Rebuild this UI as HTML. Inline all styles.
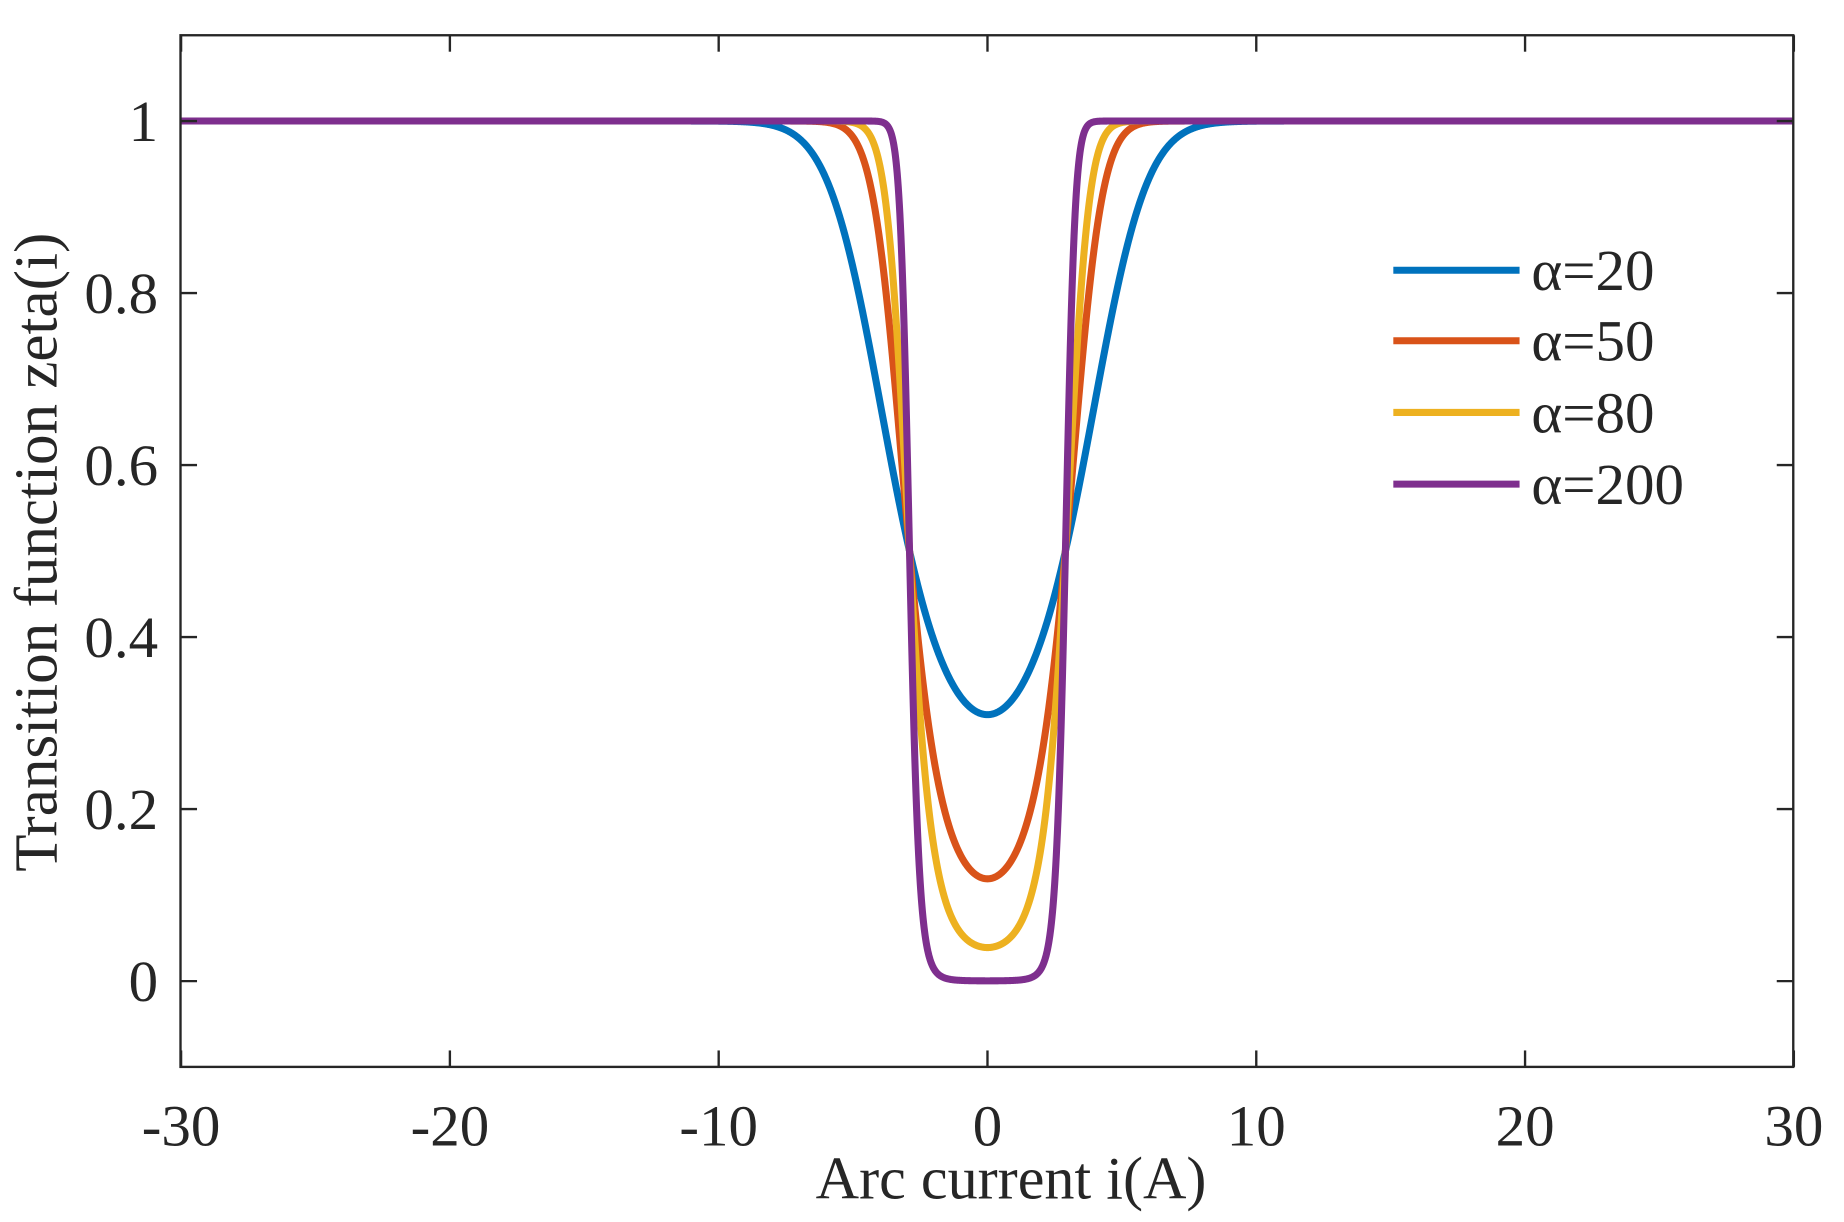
<!DOCTYPE html>
<html><head><meta charset="utf-8"><style>
html,body{margin:0;padding:0;background:#fff;}
svg{display:block;}
text{font-family:"Liberation Serif",serif;fill:#262626;}
</style></head><body>
<svg id="s" width="1844" height="1222" viewBox="0 0 1563 1040" preserveAspectRatio="none">
<rect x="0" y="0" width="1563" height="1040" fill="#fff"/>
<g id="curves" fill="none" stroke-width="6" stroke-linejoin="round"></g>
<rect x="153" y="30" width="1367" height="878" fill="none" stroke="#262626" stroke-width="2"/>
<g id="ticks" stroke="#262626" stroke-width="2"></g>
<g font-size="50" text-anchor="end" id="ylab"></g>
<g font-size="50" text-anchor="middle" id="xlab"></g>
<text x="857" y="1020" font-size="51" text-anchor="middle">Arc current i(A)</text>
<text transform="translate(48,470) rotate(-90)" font-size="52" text-anchor="middle">Transition function zeta(i)</text>
<g stroke-width="6">
<line x1="1181" y1="230" x2="1288" y2="230" stroke="#0072BD"/>
<line x1="1181" y1="290" x2="1288" y2="290" stroke="#D95319"/>
<line x1="1181" y1="351" x2="1288" y2="351" stroke="#EDB120"/>
<line x1="1181" y1="412" x2="1288" y2="412" stroke="#7E2F8E"/>
</g>
<g font-size="50">
<text x="1298" y="247">α=20</text>
<text x="1298" y="307">α=50</text>
<text x="1298" y="368">α=80</text>
<text x="1298" y="429">α=200</text>
</g>
</svg>
<script>
const NS="http://www.w3.org/2000/svg";
const X=i=>837+i*1367/60, Y=z=>835-732*z;
const cols={20:"#0072BD",50:"#D95319",80:"#EDB120",200:"#7E2F8E"};
const g=document.getElementById("curves");
for(const a of [20,50,80,200]){
  const k=a/210,c=8.41;let d="";
  for(let i=-30;i<=30.0001;i+=0.02){
    const z=1/(1+Math.exp(-k*(i*i-c)));
    d+=(d?"L":"M")+X(i).toFixed(2)+","+Y(z).toFixed(2);
  }
  const p=document.createElementNS(NS,"path");p.setAttribute("d",d);p.setAttribute("stroke",cols[a]);g.appendChild(p);
}
const t=document.getElementById("ticks"),yl=document.getElementById("ylab"),xl=document.getElementById("xlab");
function ln(x1,y1,x2,y2){const l=document.createElementNS(NS,"line");l.setAttribute("x1",x1);l.setAttribute("y1",y1);l.setAttribute("x2",x2);l.setAttribute("y2",y2);t.appendChild(l);}
function tx(p,x,y,s){const e=document.createElementNS(NS,"text");e.setAttribute("x",x);e.setAttribute("y",y);e.textContent=s;p.appendChild(e);}
for(let k=0;k<=5;k++){const y=Y(k*0.2);ln(153,y,167,y);ln(1520,y,1506,y);
  tx(yl,134,y+17,k==0?"0":k==5?"1":(k*0.2).toFixed(1));}
for(let v=-30;v<=30;v+=10){const x=X(v);ln(x,908,x,894);ln(x,30,x,44);tx(xl,x,975,String(v));}
</script>
</body></html>
